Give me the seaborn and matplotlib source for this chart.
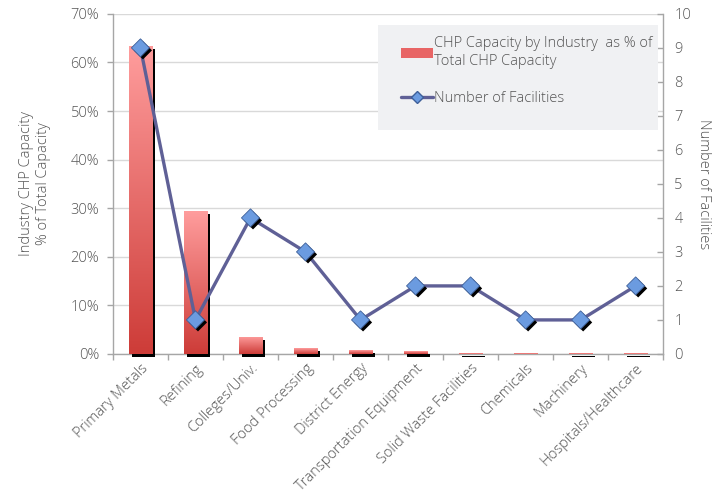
import numpy as np
import pandas as pd
import matplotlib
matplotlib.use("Agg")
import matplotlib.pyplot as plt
import matplotlib.patheffects as pe
from matplotlib.patches import Rectangle
from matplotlib.colors import LinearSegmentedColormap
from matplotlib.lines import Line2D
from matplotlib.ticker import FixedLocator
import seaborn as sns

categories = ["Primary Metals", "Refining", "Colleges/Univ.", "Food Processing",
              "District Energy", "Transportation Equipment", "Solid Waste Facilities",
              "Chemicals", "Machinery", "Hospitals/Healthcare"]
capacity_share = [63.4, 29.4, 3.5, 1.2, 0.8, 0.6, 0.2, 0.1, 0.2, 0.2]   # % of total CHP capacity
facilities = [9, 1, 4, 3, 1, 2, 2, 1, 1, 2]
left_ticks = [0, 10, 20, 30, 40, 50, 60, 70]
right_ticks = list(range(0, 11))

TEXT = "#555555"
AXIS = "#a6a6a6"
LINE = "#5f6096"
FS = 10.5

sns.set_theme(style="white")
plt.rcParams["font.family"] = ["Open Sans", "DejaVu Sans"]
plt.rcParams["font.weight"] = 300
plt.rcParams["axes.labelweight"] = 300

df = pd.DataFrame({"industry": categories, "share": capacity_share,
                   "pos": np.arange(len(categories)), "count": facilities})

fig = plt.figure(figsize=(7.24, 4.95), dpi=100)
ax = fig.add_axes([0.156, 0.285, 0.760, 0.687])

sns.barplot(data=df, x="industry", y="share", ax=ax, width=0.42,
            color="#e86565", saturation=1, zorder=3)

# vertical red gradient inside each bar, plus a hard black drop shadow
cmap = LinearSegmentedColormap.from_list("bar", ["#cd3c38", "#ff9d9d"])
grad = np.linspace(0, 1, 256).reshape(-1, 1)
for p in ax.patches:
    p.set_clip_on(False)
    p.set_linewidth(0)
    p.set_path_effects([pe.SimplePatchShadow(offset=(2.3, -2.3), shadow_rgbFace="black", alpha=1.0),
                        pe.Normal()])
    x0, y0, w, h = p.get_x(), p.get_y(), p.get_width(), p.get_height()
    im = ax.imshow(grad, cmap=cmap, origin="lower", aspect="auto",
                   extent=(x0, x0 + w, y0, y0 + h), zorder=4)
    im.set_clip_path(p)

ax.set_xlim(-0.5, len(categories) - 0.5)
ax.set_ylim(0, 70)
ax.set_yticks(left_ticks)
ax.set_yticklabels([f"{t}%" for t in left_ticks])
ax.yaxis.grid(True, color="#d9d9d9", linewidth=1.0, zorder=0)
ax.set_axisbelow(True)
ax.set_xlabel("")
ax.set_ylabel("Industry CHP Capacity\n% of Total Capacity", color=TEXT, fontsize=FS, labelpad=14)

ax.set_xticks(np.arange(len(categories)))
ax.set_xticklabels(categories, rotation=45, ha="right", rotation_mode="anchor",
                   color=TEXT, fontsize=FS)
ax.xaxis.set_minor_locator(FixedLocator(np.arange(len(categories) + 1) - 0.5))
ax.tick_params(axis="x", which="major", length=0, pad=5)
ax.tick_params(axis="x", which="minor", bottom=True, length=4, color=AXIS, width=1)
ax.tick_params(axis="y", left=True, length=4, color=AXIS, labelcolor=TEXT, labelsize=FS, width=1, pad=6)

for side in ["top", "right"]:
    ax.spines[side].set_visible(False)
for side in ["left", "bottom"]:
    ax.spines[side].set_color(AXIS)
    ax.spines[side].set_linewidth(1)

ax2 = ax.twinx()
sns.lineplot(data=df, x="pos", y="count", ax=ax2, color=LINE, linewidth=2.4, zorder=5)
sns.scatterplot(data=df, x="pos", y="count", ax=ax2, marker="D", s=85,
                color="#6b9be0", edgecolor="#3d5f99", linewidth=0.6, zorder=6)
for coll in ax2.collections:
    coll.set_path_effects([pe.SimplePatchShadow(offset=(1.8, -1.8), shadow_rgbFace="black", alpha=1.0),
                           pe.Normal()])
ax2.set_ylim(0, 10)
ax2.set_yticks(right_ticks)
ax2.set_xlabel("")
ax2.set_ylabel("Number of Facilities", color=TEXT, fontsize=FS, rotation=-90, labelpad=14)
ax2.tick_params(axis="y", right=True, direction="in", length=4, color=AXIS,
                labelcolor=TEXT, labelsize=FS, width=1, pad=8)
for side in ["top", "left", "bottom"]:
    ax2.spines[side].set_visible(False)
ax2.spines["right"].set_color(AXIS)
ax2.spines["right"].set_linewidth(1)

# legend panel
ax2.add_patch(Rectangle((0.482, 0.659), 0.509, 0.309, transform=ax2.transAxes,
                        facecolor="#f0f1f3", edgecolor="none", zorder=1))
handles = [Rectangle((0, 0), 1, 1, facecolor="#e86565", edgecolor="none"),
           Line2D([0], [0], color=LINE, linewidth=2.4, marker="D", markersize=6,
                  markerfacecolor="#6b9be0", markeredgecolor="#3d5f99")]
labels = ["CHP Capacity by Industry  as % of\nTotal CHP Capacity", "Number of Facilities"]
leg = ax2.legend(handles, labels, loc="upper left", bbox_to_anchor=(0.51, 0.955),
                 frameon=False, fontsize=FS, labelcolor=TEXT, handlelength=2.2,
                 handletextpad=0.05, labelspacing=1.55, borderpad=0)
leg.set_zorder(7)

fig.savefig("out.png", dpi=100, facecolor="white")
